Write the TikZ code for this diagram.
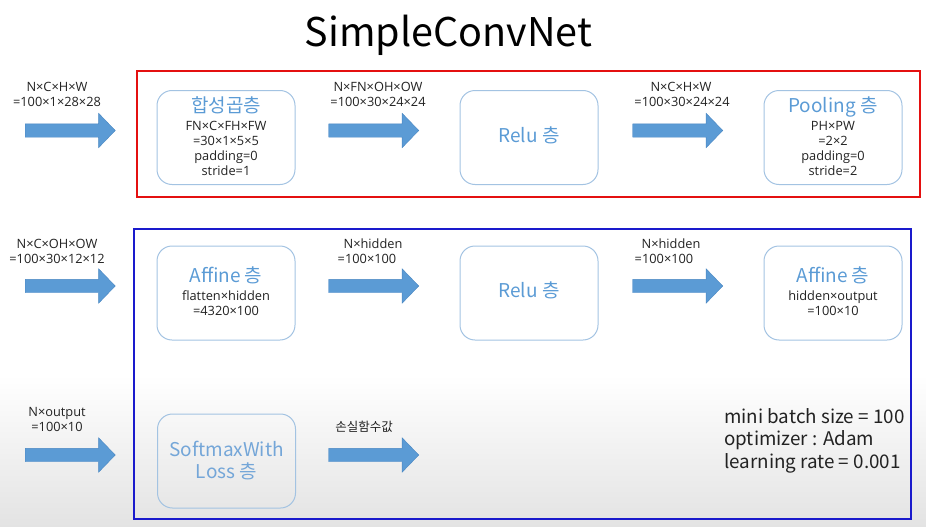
\documentclass[tikz,border=0pt]{standalone}
\usepackage{fontspec}
\setmainfont{Noto Sans CJK KR}
\newfontfamily\labelfont{Open Sans}
\newfontfamily\krfont{Noto Sans CJK KR}
\usetikzlibrary{shapes.arrows}
\definecolor{arrowblue}{HTML}{5B9BD5}
\definecolor{arrowedge}{HTML}{4A87C2}
\definecolor{titleblue}{HTML}{5B9BD5}
\definecolor{paleblue}{HTML}{74A6D8}
\definecolor{boxedge}{HTML}{A3C3E2}
\definecolor{framered}{HTML}{E41010}
\definecolor{frameblue}{HTML}{1A1ACC}
\definecolor{txt}{HTML}{222222}
\tikzset{
  blockarrow/.style={single arrow, fill=arrowblue, draw=arrowedge, line width=0.4pt,
    minimum height=90pt, minimum width=34pt, single arrow head extend=10.5pt,
    single arrow tip angle=92, inner xsep=0pt, inner ysep=6.5pt},
  layer/.style={draw=boxedge, line width=1pt, rounded corners=15pt,
    minimum width=138pt, minimum height=94pt, inner sep=0pt},
  small/.style={font=\labelfont\fontsize{12.8}{14}\selectfont, text=txt, inner sep=0pt,
    text height=9pt, text depth=2.5pt},
  ltitle/.style={font=\fontsize{19}{22}\selectfont, text=titleblue, inner sep=0pt,
    text height=14pt, text depth=4pt},
  note/.style={font=\fontsize{18.8}{22}\selectfont, text=txt, inner sep=0pt, anchor=base west},
  frame/.style={line width=2pt}
}
\begin{document}
\begin{tikzpicture}[x=1pt,y=-1pt]
\useasboundingbox (0,0) rectangle (926,527);
\shade[top color=white, bottom color=black!11] (0,375) rectangle (926,527);

% title
\node[font=\fontsize{39.5}{46}\selectfont, inner sep=0pt, anchor=base] (title) at (448.5,47) {SimpleConvNet};

% frames
\draw[frame, draw=framered] (137,71) rectangle (920,197);
\draw[frame, draw=frameblue] (134,229) rectangle (911,519);

% ---------- row 1 ----------
\node[blockarrow] (a11) at (67,130.5) {};
\node[blockarrow] (a12) at (370.5,130.5) {};
\node[blockarrow] (a13) at (674.5,130.5) {};

\node[small] (l11a) at (57,88) {N×C×H×W};
\node[small] (l11b) at (57,103) {=100×1×28×28};
\node[small] (l12a) at (378,88) {N×FN×OH×OW};
\node[small] (l12b) at (378,103) {=100×30×24×24};
\node[small] (l13a) at (681,88) {N×C×H×W};
\node[small] (l13b) at (682,103) {=100×30×24×24};

\node[layer] (conv) at (226,137.5) {};
\node[ltitle] (convt) at (226,107) {합성곱층};
\node[small] (conv1) at (226,127) {FN×C×FH×FW};
\node[small] (conv2) at (226,142) {=30×1×5×5};
\node[small] (conv3) at (226,157) {padding=0};
\node[small] (conv4) at (226,172) {stride=1};

\node[layer] (relu1) at (529,137.5) {};
\node[ltitle] (relu1t) at (529,137) {Relu 층};

\node[layer] (pool) at (833,137.5) {};
\node[ltitle] (poolt) at (833,107) {Pooling 층};
\node[small] (pool1) at (833,127) {PH×PW};
\node[small] (pool2) at (833,142) {=2×2};
\node[small] (pool3) at (833,157) {padding=0};
\node[small] (pool4) at (833,172) {stride=2};

% ---------- row 2 ----------
\node[blockarrow] (a21) at (67,286) {};
\node[blockarrow] (a22) at (370.5,286) {};
\node[blockarrow] (a23) at (674.5,286) {};

\node[small] (l21a) at (57,245) {N×C×OH×OW};
\node[small] (l21b) at (57,260) {=100×30×12×12};
\node[small] (l22a) at (373,245) {N×hidden};
\node[small] (l22b) at (367,260) {=100×100};
\node[small] (l23a) at (671,245) {N×hidden};
\node[small] (l23b) at (664,260) {=100×100};

\node[layer] (aff1) at (226,293) {};
\node[ltitle] (aff1t) at (226,277) {Affine 층};
\node[small] (aff11) at (226,297) {flatten×hidden};
\node[small] (aff12) at (226,312) {=4320×100};

\node[layer] (relu2) at (529,293) {};
\node[ltitle] (relu2t) at (529,292) {Relu 층};

\node[layer] (aff2) at (833,293) {};
\node[ltitle] (aff2t) at (833,277) {Affine 층};
\node[small] (aff21) at (833,297) {hidden×output};
\node[small] (aff22) at (833,312) {=100×10};

% ---------- row 3 ----------
\node[blockarrow] (a31) at (67,455) {};
\node[blockarrow] (a32) at (370.5,455) {};

\node[small] (l31a) at (57,413) {N×output};
\node[small] (l31b) at (57,428) {=100×10};
\node[small, font=\krfont\fontsize{12.5}{14}\selectfont] (l32) at (364,428) {손실함수값};

\node[layer] (soft) at (226.5,461) {};
\node[ltitle, text=paleblue] (soft1) at (226.5,451) {SoftmaxWith};
\node[ltitle, text=paleblue] (soft2) at (226.5,473) {Loss 층};

\node[note] (n1) at (724,423) {mini batch size = 100};
\node[note] (n2) at (724,445.5) {optimizer : Adam};
\node[note] (n3) at (724,468) {learning rate = 0.001};
\end{tikzpicture}
\end{document}
